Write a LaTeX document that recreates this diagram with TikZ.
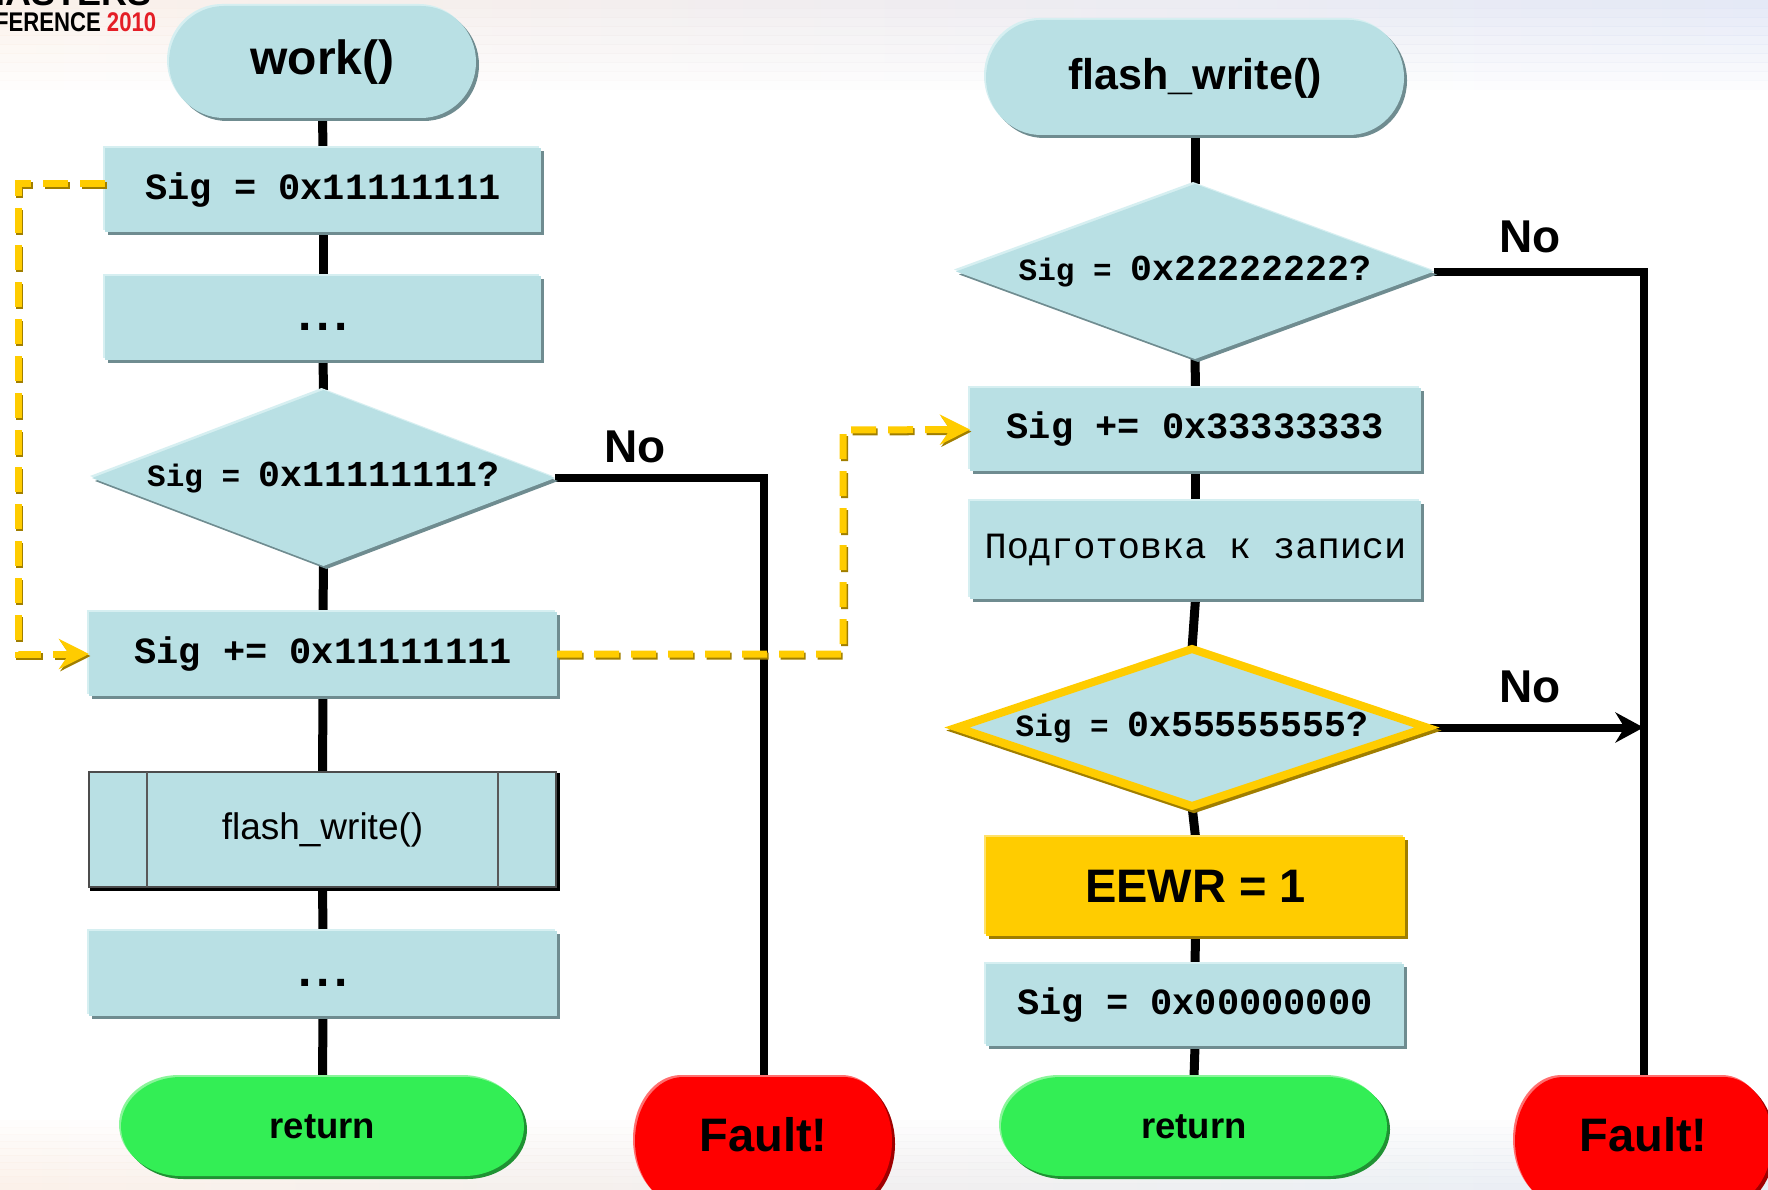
\documentclass[tikz,border=0pt]{standalone}
\usepackage{fontspec}
\usepackage{graphicx}
\setmainfont{Liberation Sans}
\newfontfamily\codefont{Liberation Mono}
\usetikzlibrary{shapes.geometric,arrows.meta,shadows}

\definecolor{lblue}{HTML}{B9E0E4}
\definecolor{lshadow}{HTML}{6F8C90}
\definecolor{lhigh}{HTML}{D6EFF1}
\definecolor{yellowc}{HTML}{FFCC00}
\definecolor{yhigh}{HTML}{FFE16A}
\definecolor{yshadow}{HTML}{A07E00}
\definecolor{greenc}{HTML}{33EE55}
\definecolor{gshadow}{HTML}{1F9233}
\definecolor{ghigh}{HTML}{8AF59A}
\definecolor{redc}{HTML}{FF0000}
\definecolor{rshadow}{HTML}{9E0000}
\definecolor{rhigh}{HTML}{FF7070}
\definecolor{logored}{HTML}{E41E26}
\definecolor{bgtop}{HTML}{E2E7F6}
\definecolor{bgpeach}{HTML}{FBF0E8}
\definecolor{bgbot}{HTML}{E6EDF5}

\pgfdeclarelayer{back}
\pgfdeclarelayer{lines}
\pgfsetlayers{back,lines,main}

\newcommand\capdraw[7]{%
  \fill[#1,shift={(#2,#3)}] (\capA,#5) -- (\capB,#5)
    .. controls ({\capB+\capKx},#5) and (#6,{\capM-\capKy}) .. (#6,\capM)
    .. controls (#6,{\capM+\capKy}) and ({\capB+\capKx},#7) .. (\capB,#7)
    -- (\capA,#7)
    .. controls ({\capA-\capKx},#7) and (#4,{\capM+\capKy}) .. (#4,\capM)
    .. controls (#4,{\capM-\capKy}) and ({\capA-\capKx},#5) .. (\capA,#5) -- cycle;}
\newcommand\capsule[8]{%
  \pgfmathsetmacro\capA{#4+#8}%
  \pgfmathsetmacro\capB{#6-#8}%
  \pgfmathsetmacro\capM{(#5+#7)/2}%
  \pgfmathsetmacro\capKx{0.5523*#8}%
  \pgfmathsetmacro\capKy{0.5523*(#7-#5)/2}%
  \capdraw{#3}{-2}{-2}{#4}{#5}{#6}{#7}%
  \capdraw{#2}{3}{3}{#4}{#5}{#6}{#7}%
  \capdraw{#1}{0}{0}{#4}{#5}{#6}{#7}%
}
\newcommand\bigdots{\raisebox{-12.5pt}[0pt][0pt]{\normalfont\bfseries\fontsize{48}{48}\selectfont .\kern5pt.\kern5pt.}}

\tikzset{
  basenode/.style={inner sep=0pt, outer sep=0pt},
  blueshadow/.style={general shadow={fill=lhigh, shadow xshift=-2pt, shadow yshift=2pt},
                     general shadow={fill=lshadow, shadow xshift=3pt, shadow yshift=-3pt}},
  procbox/.style={basenode, rectangle, fill=lblue, blueshadow,
                  font=\codefont\bfseries\fontsize{37}{40}\selectfont},
  decbox/.style={basenode, diamond, fill=lblue, font=\codefont\bfseries},
  captext/.style={basenode, rectangle, font=\bfseries\fontsize{#1}{#1}\selectfont},
  predef/.style={basenode, rectangle, fill=lblue, draw=black!70, line width=2.5pt,
                 general shadow={fill=black, draw=black, line width=2.5pt, shadow xshift=2.5pt, shadow yshift=-2.5pt},
                 font=\fontsize{37}{40}\selectfont},
  eewrbox/.style={basenode, rectangle, fill=yellowc,
                  general shadow={fill=yhigh, shadow xshift=-2pt, shadow yshift=2pt},
                  general shadow={fill=yshadow, shadow xshift=3pt, shadow yshift=-3pt},
                  font=\bfseries\fontsize{47}{50}\selectfont},
  conn/.style={line width=9pt, black},
  noline/.style={line width=8pt, black, line join=miter},
  nolbl/.style={basenode, font=\bfseries\fontsize{46}{50}\selectfont},
  ydash/.style={line width=7pt, draw=yellowc, dash pattern=on 25pt off 12pt,
                -{Stealth[length=30pt,width=30pt,inset=10pt]}},
  ydashsh/.style={ydash, draw=yshadow, transform canvas={xshift=1.5pt,yshift=-2pt}},
}

\begin{document}
\begin{tikzpicture}[x=1pt,y=-1pt]
\useasboundingbox (0,0) rectangle (1768,1190);

\begin{pgfonlayer}{back}
  \fill[white] (0,0) rectangle (1768,1190);
  \foreach \i in {0,...,9} {
    \shade[left color=bgpeach, right color=bgtop, opacity={0.9*(1-\i/10)}]
      (0,{\i*9}) rectangle (1768,{\i*9+9});
  }
  \foreach \i in {0,...,9} {
    \shade[left color=bgpeach, right color=bgbot, opacity={0.9*(\i+1)/10}]
      (0,{1120+\i*7}) rectangle (1768,{1127+\i*7});
  }
\end{pgfonlayer}

\begin{scope}
\clip (0,0) rectangle (1768,1190);

% logo fragment (cut off by the picture edge, as in the original)
\node[basenode, anchor=base east, font=\bfseries\fontsize{36}{36}\selectfont] (logoA) at (152,6) {MASTERS};
\node[basenode, anchor=base west, font=\bfseries\fontsize{27}{30}\selectfont] (logoB) at (-5,32)
  {\scalebox{0.82}[1]{FERENCE \textcolor{logored}{2010}}};

% ---------- left column ----------
\capsule{lblue}{lshadow}{lhigh}{169}{6}{476}{118}{55}
\node[captext=48, minimum width=307, minimum height=112] (work) at (322.5,62) {work()};

\node[procbox, minimum width=436, minimum height=84] (s1) at (323,190) {Sig = 0x11111111};
\node[procbox, minimum width=436, minimum height=84] (dots1) at (323,318) {\bigdots};
\node[decbox, blueshadow, minimum width=463, minimum height=176] (d1) at (323.5,478)
  {\makebox[0pt]{\fontsize{31}{34}\selectfont Sig = \fontsize{36.5}{40}\selectfont 0x11111111?}};
\node[procbox, minimum width=468, minimum height=84] (s2) at (323,654) {Sig += 0x11111111};
\node[predef, minimum width=467, minimum height=115] (fw) at (322.5,829.5) {flash\_write()};
\draw[line width=1.5pt, black!65] ([xshift=58pt]fw.north west) -- ([xshift=58pt]fw.south west);
\draw[line width=1.5pt, black!65] ([xshift=-58pt]fw.north east) -- ([xshift=-58pt]fw.south east);
\node[procbox, minimum width=468, minimum height=85] (dots2) at (323,973.5) {\bigdots};

\capsule{greenc}{gshadow}{ghigh}{121}{1077}{524}{1176}{60}
\node[captext=36.5, minimum width=403, minimum height=99] (ret1) at (322.5,1126.5) {return};

\capsule{redc}{rshadow}{rhigh}{635}{1077}{892}{1205}{48}
\node[captext=47, minimum width=257, minimum height=116] (fault1) at (763.5,1135) {Fault!};

% ---------- right column ----------
\capsule{lblue}{lshadow}{lhigh}{986}{20}{1404}{135}{55}
\node[captext=43, minimum width=418, minimum height=115] (fwT) at (1195,78) {flash\_write()};

\node[decbox, blueshadow, minimum width=478, minimum height=175] (d2) at (1195,271.5)
  {\makebox[0pt]{\fontsize{31}{34}\selectfont Sig = \fontsize{36.5}{40}\selectfont 0x22222222?}};
\node[procbox, minimum width=451, minimum height=83] (s3) at (1195.5,429.5) {Sig += 0x33333333};
\node[procbox, minimum width=451, minimum height=98, font=\codefont\mdseries\fontsize{37}{40}\selectfont] (prep) at (1195.5,550) {Подготовка к записи};
\node[decbox, draw=yellowc, line width=8pt, minimum width=470, minimum height=157,
      general shadow={fill=yshadow, draw=yshadow, line width=8pt, shadow xshift=2pt, shadow yshift=-3pt}]
  (d3) at (1192,727.5)
  {\makebox[0pt]{\fontsize{31}{34}\selectfont Sig = \fontsize{36.5}{40}\selectfont 0x55555555?}};
\node[eewrbox, minimum width=419, minimum height=99] (eewr) at (1195.5,886.5) {EEWR = 1};
\node[procbox, minimum width=418, minimum height=82] (s4) at (1195,1005) {Sig = 0x00000000};

\capsule{greenc}{gshadow}{ghigh}{1001}{1077}{1387}{1176}{60}
\node[captext=36.5, minimum width=386, minimum height=99] (ret2) at (1194,1126.5) {return};

\capsule{redc}{rshadow}{rhigh}{1515}{1077}{1772}{1205}{48}
\node[captext=47, minimum width=257, minimum height=116] (fault2) at (1643.5,1135) {Fault!};

% labels
\node[nolbl] (no1) at (635,447) {No};
\node[nolbl] (no2) at (1530,237) {No};
\node[nolbl] (no3) at (1530,687) {No};

% ---------- connectors ----------
\begin{pgfonlayer}{lines}
  \draw[conn] (work.south) -- (s1.north);
  \draw[conn] (s1.south) -- (dots1.north);
  \draw[conn] (dots1.south) -- (d1.north);
  \draw[conn] (d1.south) -- (s2.north);
  \draw[conn] (s2.south) -- (fw.north);
  \draw[conn] (fw.south) -- (dots2.north);
  \draw[conn] (dots2.south) -- (ret1.north);
  \draw[noline] (d1.east) -| (fault1.north);

  \draw[conn] (fwT.south) -- (d2.north);
  \draw[conn] (d2.south) -- (s3.north);
  \draw[conn] (s3.south) -- (prep.north);
  \draw[conn] (prep.south) -- (d3.north);
  \draw[conn] (d3.south) -- (eewr.north);
  \draw[conn] (eewr.south) -- (s4.north);
  \draw[conn] (s4.south) -- (ret2.north);
  \draw[noline] (d2.east) -| (fault2.north);
  \draw[noline, -{Stealth[length=28pt,width=30pt,inset=9pt]}] (d3.east) -- (d3.east -| fault2.north);
\end{pgfonlayer}

% yellow dashed flow
\coordinate (c1) at (18,184);
\coordinate (c2) at (843,430);
\draw[ydashsh] ([yshift=6pt]s1.west) -- (c1) |- (s2.west);
\draw[ydash] ([yshift=6pt]s1.west) -- (c1) |- (s2.west);
\draw[ydashsh] (s2.east) -| (c2) -- (s3.west);
\draw[ydash] (s2.east) -| (c2) -- (s3.west);
\end{scope}
\end{tikzpicture}
\end{document}
